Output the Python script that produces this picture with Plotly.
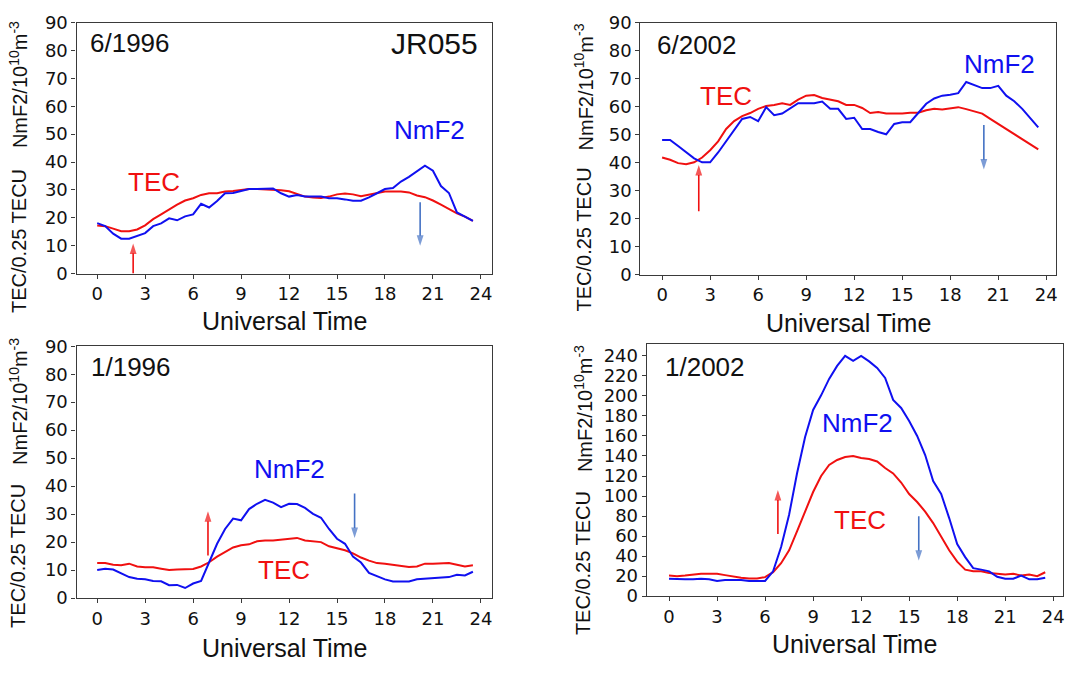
import plotly.graph_objects as go

# ---------------- data ----------------
ut = [0, 0.5, 1, 1.5, 2, 2.5, 3, 3.5, 4, 4.5, 5, 5.5, 6, 6.5, 7, 7.5, 8, 8.5,
      9, 9.5, 10, 10.5, 11, 11.5, 12, 12.5, 13, 13.5, 14, 14.5, 15, 15.5, 16,
      16.5, 17, 17.5, 18, 18.5, 19, 19.5, 20, 20.5, 21, 21.5, 22, 22.5, 23, 23.5]

nmf2_jun1996 = [18.1, 17.0, 14.3, 12.5, 12.5, 13.5, 14.5, 17.0, 18.0, 19.8, 19.1, 20.5,
                21.2, 25.0, 23.7, 26.0, 28.8, 28.9, 29.7, 30.3, 30.3, 30.3, 30.5, 28.8,
                27.6, 28.2, 27.6, 27.6, 27.6, 27.0, 27.0, 26.6, 26.1, 26.1, 27.3, 28.8,
                30.3, 30.7, 33.0, 34.7, 36.8, 38.7, 36.9, 31.4, 28.9, 21.9, 20.4, 18.9]
tec_jun1996 = [17.2, 17.0, 16.1, 15.2, 15.2, 15.8, 17.3, 19.5, 21.2, 23.1, 24.7, 26.2,
               27.0, 28.2, 28.8, 28.8, 29.4, 29.6, 29.9, 30.3, 30.3, 30.2, 30.0, 29.9,
               29.5, 28.5, 27.6, 27.3, 27.1, 27.6, 28.4, 28.7, 28.4, 27.7, 28.2, 28.7,
               29.4, 29.4, 29.4, 29.1, 28.0, 27.4, 26.2, 24.7, 23.0, 21.6, 20.4, 18.9]

nmf2_jun2002 = [48.1, 48.1, 45.9, 43.8, 41.5, 40.1, 40.1, 43.6, 47.6, 51.7, 55.6, 56.3,
                54.8, 59.8, 56.9, 57.5, 59.2, 61.2, 61.2, 61.2, 61.8, 59.2, 59.2, 55.6,
                56.0, 52.0, 52.0, 50.9, 50.1, 53.8, 54.4, 54.4, 57.7, 61.0, 62.9, 63.9,
                64.2, 64.8, 68.8, 67.7, 66.6, 66.6, 67.4, 63.9, 61.9, 59.2, 56.0, 52.6]
tec_jun2002 = [41.8, 41.0, 39.8, 39.4, 40.1, 41.8, 44.4, 47.6, 52.0, 54.8, 56.6, 57.7,
               59.2, 60.2, 60.6, 61.2, 60.6, 62.5, 63.9, 64.1, 63.1, 62.5, 61.9, 60.6,
               60.6, 59.5, 57.7, 58.1, 57.5, 57.5, 57.5, 57.8, 57.8, 58.7, 59.2, 59.0,
               59.5, 59.8, 59.1, 58.3, 57.5, 55.6, 53.8, 52.0, 50.2, 48.2, 46.3, 44.7]

nmf2_jan1996 = [10.0, 10.5, 10.2, 8.8, 7.5, 6.9, 6.7, 6.1, 6.0, 4.6, 4.7, 3.6,
                5.2, 6.1, 12.5, 19.4, 24.7, 28.4, 27.8, 31.8, 33.7, 35.1, 34.1, 32.5,
                33.7, 33.6, 32.2, 30.1, 28.7, 24.7, 21.2, 19.4, 14.8, 12.7, 9.0, 7.9,
                6.7, 5.9, 5.8, 5.9, 6.7, 6.9, 7.1, 7.1, 7.5, 8.3, 8.1, 9.4]
tec_jan1996 = [12.5, 12.5, 11.9, 11.7, 12.3, 11.3, 11.0, 11.0, 10.5, 10.0, 10.2, 10.4,
               10.4, 11.3, 12.8, 14.8, 16.6, 18.1, 18.9, 19.2, 20.3, 20.6, 20.6, 20.9,
               21.2, 21.5, 20.6, 20.3, 20.0, 18.5, 17.7, 17.1, 16.0, 14.5, 13.4, 12.5,
               12.3, 11.9, 11.6, 11.1, 11.3, 12.3, 12.3, 12.5, 12.5, 11.9, 11.3, 11.7]

nmf2_jan2002 = [17.4, 16.8, 16.8, 16.8, 17.4, 16.8, 15.2, 16.1, 16.1, 16.1, 15.2, 15.2,
                15.2, 24.8, 49.0, 81.3, 123.0, 159.0, 186.0, 200.6, 217.0, 230.0, 240.0, 235.0,
                240.0, 234.5, 228.0, 218.0, 196.0, 188.0, 175.0, 160.0, 141.0, 115.0, 102.0, 78.0,
                52.0, 39.0, 28.0, 26.5, 24.8, 19.4, 17.4, 17.4, 20.6, 16.8, 16.8, 18.4]
tec_jan2002 = [20.6, 20.0, 20.6, 21.6, 22.3, 22.3, 22.3, 21.0, 19.4, 18.4, 17.7, 17.7,
               19.0, 23.9, 32.9, 45.8, 65.0, 84.5, 104.0, 120.0, 131.0, 136.0, 139.0, 140.0,
               138.0, 137.0, 134.5, 128.0, 122.6, 113.5, 102.0, 94.0, 84.5, 73.0, 60.0, 45.8,
               34.5, 26.5, 24.8, 24.8, 23.2, 22.6, 21.6, 22.3, 20.6, 21.6, 20.0, 23.9]

panel_titles = ["6/1996", "6/2002", "1/1996", "1/2002"]
x_ticks = [0, 3, 6, 9, 12, 15, 18, 21, 24]

# ---------------- styling ----------------
W, H = 1065, 673
BLUE = "#1010f0"
RED = "#f01010"
ARROW_BLUE = "#4472c4"
TXT = "Liberation Sans, Arial, sans-serif"
TICKF = "DejaVu Sans, sans-serif"
AXC = "#3a3a3a"


def px(xp):
    return xp / W


def py(yp):
    return 1 - yp / H


panels = [
    dict(n=nmf2_jun1996, t=tec_jun1996, xd=(76.7, 492.7), yd=(12, 271),
         xr=(-1.29, 24.68), yr=(0, 90), dy=10),
    dict(n=nmf2_jun2002, t=tec_jun2002, xd=(641.7, 1057.7), yd=(12, 272),
         xr=(-1.35, 24.59), yr=(0, 90), dy=10),
    dict(n=nmf2_jan1996, t=tec_jan1996, xd=(76.7, 492.7), yd=(346, 606),
         xr=(-1.29, 24.68), yr=(0, 90), dy=10),
    dict(n=nmf2_jan2002, t=tec_jan2002, xd=(648, 1065), yd=(344, 604),
         xr=(-1.39, 24.61), yr=(0, 251.6), dy=20),
]

fig = go.Figure()
layout = dict(
    width=W, height=H, margin=dict(l=0, r=0, t=0, b=0),
    paper_bgcolor="white", plot_bgcolor="white", showlegend=False,
)
annotations = []

for i, p in enumerate(panels):
    k = "" if i == 0 else str(i + 1)
    xa, ya = "x" + k, "y" + k
    fig.add_trace(go.Scatter(x=ut, y=p["t"], mode="lines", xaxis=xa, yaxis=ya,
                             line=dict(color=RED, width=2)))
    fig.add_trace(go.Scatter(x=ut, y=p["n"], mode="lines", xaxis=xa, yaxis=ya,
                             line=dict(color=BLUE, width=2)))
    common = dict(showline=True, mirror=True, linecolor=AXC, linewidth=1.3,
                  ticks="outside", ticklen=4, tickcolor=AXC, tickwidth=1,
                  showgrid=False, zeroline=False,
                  tickfont=dict(family=TICKF, size=18, color="#111"))
    layout["xaxis" + k] = dict(domain=[px(p["xd"][0]), px(p["xd"][1])],
                               anchor=ya, range=list(p["xr"]),
                               tickvals=x_ticks, **common)
    layout["yaxis" + k] = dict(domain=[py(p["yd"][1]), py(p["yd"][0])],
                               anchor=xa, range=list(p["yr"]),
                               tick0=0, dtick=p["dy"], **common)

# ---------------- text labels ----------------
labels = [
    (0, "6/1996", 2.04, 82.7, "#111", 26),
    (0, "JR055", 21.1, 82.4, "#111", 30),
    (0, "TEC", 3.55, 32.7, RED, 26),
    (0, "NmF2", 20.8, 51.4, BLUE, 26),
    (1, "6/2002", 2.15, 82.0, "#111", 26),
    (1, "TEC", 4.0, 63.7, RED, 26),
    (1, "NmF2", 21.1, 75.1, BLUE, 26),
    (2, "1/1996", 2.14, 82.5, "#111", 26),
    (2, "NmF2", 12.0, 46.0, BLUE, 26),
    (2, "TEC", 11.7, 10.2, RED, 26),
    (3, "1/2002", 2.25, 229.0, "#111", 26),
    (3, "NmF2", 11.8, 173.0, BLUE, 26),
    (3, "TEC", 11.9, 76.5, RED, 26),
]
for (pi, txt, x, y, c, s) in labels:
    k = "" if pi == 0 else str(pi + 1)
    annotations.append(dict(text=txt, x=x, y=y, xref="x" + k, yref="y" + k,
                            showarrow=False, xanchor="center", yanchor="middle",
                            font=dict(family=TXT, size=s, color=c)))

# arrows: (panel, color, x, y_from, y_to) drawn as line + arrow-head marker
arrows = [
    (0, RED, 2.25, 0.0, 10.8), (0, ARROW_BLUE, 20.2, 25.6, 10.0),
    (1, RED, 2.29, 22.6, 39.1), (1, ARROW_BLUE, 20.1, 53.4, 37.5),
    (2, RED, 6.93, 15.2, 31.0), (2, ARROW_BLUE, 16.1, 37.4, 21.5),
    (3, RED, 6.8, 62.0, 106.0), (3, ARROW_BLUE, 15.6, 79.7, 35.5),
]
for (pi, c, x, y0, y1) in arrows:
    k = "" if pi == 0 else str(pi + 1)
    fig.add_trace(go.Scatter(
        x=[x, x], y=[y0, y1], mode="lines+markers",
        xaxis="x" + k, yaxis="y" + k, hoverinfo="skip",
        line=dict(color=c, width=1.6),
        marker=dict(symbol="arrow", angleref="previous", size=[0, 11],
                    color=c, line=dict(width=0))))

# axis titles (pixel positions)
xt_pos = [(284.7, 320), (849.7, 322), (284.7, 658), (856, 653)]
for (x, y) in xt_pos:
    annotations.append(dict(text="Universal Time", x=px(x), y=py(y),
                            xref="paper", yref="paper", showarrow=False,
                            xanchor="center", yanchor="middle",
                            font=dict(family=TXT, size=25, color="#111")))

yt_pos = [
    (18.5, 237, 76), (585, 236, 78), (18.5, 562, 403), (584, 570, 410)]
for (x, yt, yn) in yt_pos:
    annotations.append(dict(text="TEC/0.25 TECU", x=px(x), y=py(yt),
                            xref="paper", yref="paper", showarrow=False,
                            textangle=-90, xanchor="center", yanchor="middle",
                            font=dict(family=TXT, size=20, color="#111")))
    annotations.append(dict(text="NmF2/10<sup>10</sup>m<sup>-3</sup>",
                            x=px(x), y=py(yn),
                            xref="paper", yref="paper", showarrow=False,
                            textangle=-90, xanchor="center", yanchor="middle",
                            font=dict(family=TXT, size=20, color="#111")))

layout["annotations"] = annotations
fig.update_layout(**layout)
fig.write_html("out.html")
